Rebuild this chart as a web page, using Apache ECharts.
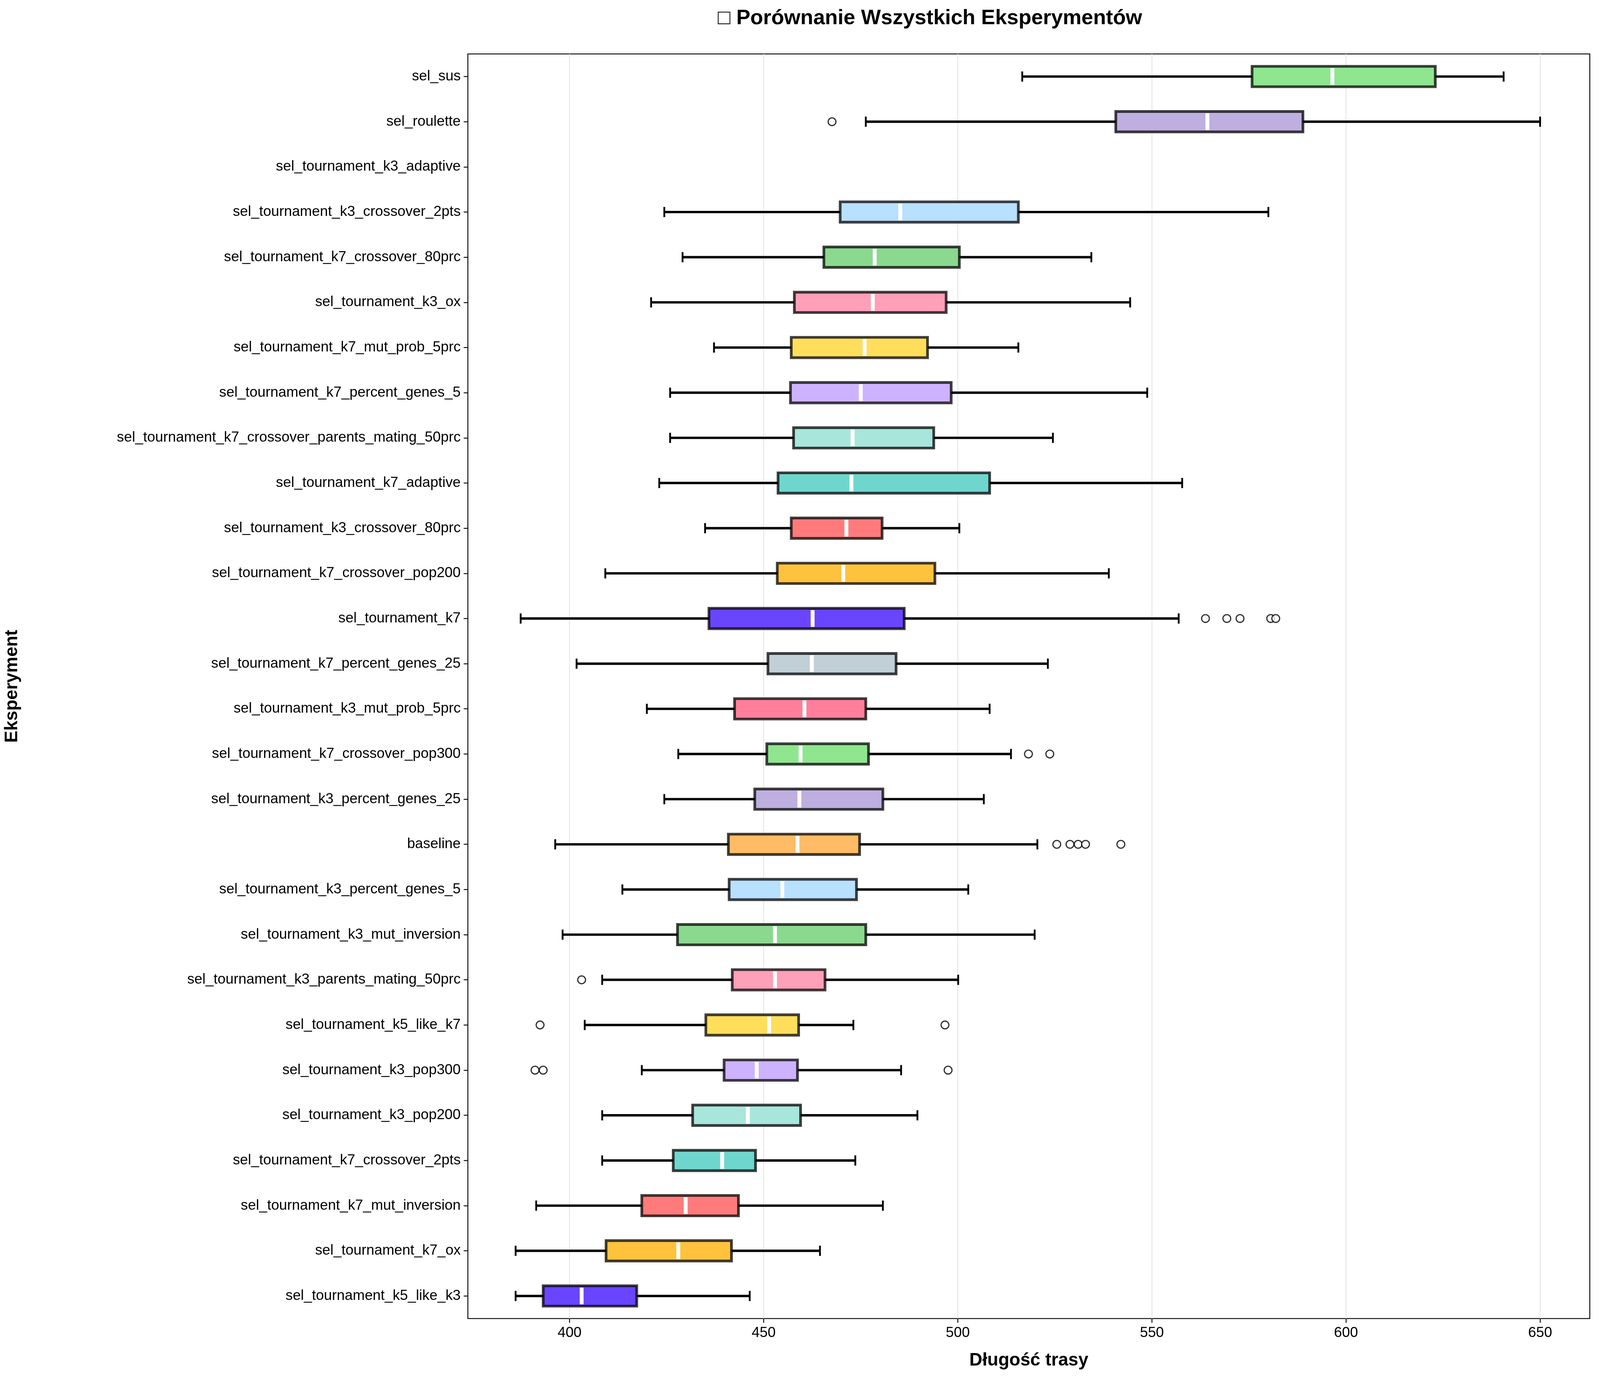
<!DOCTYPE html>
<html>
<head>
<meta charset="utf-8">
<script src="https://cdn.jsdelivr.net/npm/echarts@6/dist/echarts.min.js"></script>
<style>html,body{margin:0;padding:0;background:#fff;overflow:hidden}#chart{width:100vw;height:100vh}</style>
</head>
<body>
<div id="chart"></div>
<script>
// kategorie od dołu do góry
var categories = ['sel_tournament_k5_like_k3','sel_tournament_k7_ox','sel_tournament_k7_mut_inversion','sel_tournament_k7_crossover_2pts','sel_tournament_k3_pop200','sel_tournament_k3_pop300','sel_tournament_k5_like_k7','sel_tournament_k3_parents_mating_50prc','sel_tournament_k3_mut_inversion','sel_tournament_k3_percent_genes_5','baseline','sel_tournament_k3_percent_genes_25','sel_tournament_k7_crossover_pop300','sel_tournament_k3_mut_prob_5prc','sel_tournament_k7_percent_genes_25','sel_tournament_k7','sel_tournament_k7_crossover_pop200','sel_tournament_k3_crossover_80prc','sel_tournament_k7_adaptive','sel_tournament_k7_crossover_parents_mating_50prc','sel_tournament_k7_percent_genes_5','sel_tournament_k7_mut_prob_5prc','sel_tournament_k3_ox','sel_tournament_k7_crossover_80prc','sel_tournament_k3_crossover_2pts','sel_tournament_k3_adaptive','sel_roulette','sel_sus']
// [min, q1, mediana, q3, max]
var boxes = [
  [386.1,393.2,403.1,417.3,446.4],
  [386.1,409.4,428.0,441.7,464.5],
  [391.4,418.6,429.9,443.5,480.7],
  [408.4,426.7,439.3,447.9,473.6],
  [408.4,431.7,445.9,459.5,489.6],
  [418.6,439.8,448.2,458.7,485.4],
  [403.9,435.1,451.4,459.0,473.1],
  [408.4,441.9,452.9,465.8,500.1],
  [398.2,427.8,452.9,476.3,519.8],
  [413.6,441.1,454.8,473.9,502.7],
  [396.3,440.9,458.7,474.7,520.5],
  [424.4,447.7,459.2,480.7,506.7],
  [428.0,450.8,459.5,477.0,513.7],
  [419.9,442.5,460.5,476.3,508.2],
  [401.8,451.1,462.4,484.1,523.2],
  [387.4,435.9,462.6,486.2,556.9],
  [409.2,453.5,470.5,494.1,538.9],
  [434.9,457.1,471.3,480.5,500.4],
  [423.1,453.7,472.6,508.2,557.8],
  [425.9,457.7,472.9,493.8,524.5],
  [425.9,456.9,475.0,498.3,548.8],
  [437.2,457.1,476.0,492.2,515.6],
  [421.0,457.9,478.1,497.0,544.4],
  [429.1,465.5,478.6,500.4,534.4],
  [424.4,469.7,485.2,515.6,580.0],
  [531.5,531.5,531.5,531.5,531.5],
  [476.3,540.7,564.3,588.9,650.0],
  [516.6,575.8,596.5,623.0,640.6]
]
// [indeks kategorii, wartość]
var outliers = [
  [5,391.1],[5,393.2],[5,497.5],
  [6,392.4],[6,496.7],
  [7,403.1],
  [10,525.5],[10,528.9],[10,531.0],[10,532.9],[10,542.0],
  [12,518.2],[12,523.7],
  [15,563.8],[15,569.3],[15,572.7],[15,580.6],[15,581.9],
  [26,467.6]
]
var colors = ['#6a45ff','#ffc23d','#ff7b7b','#6fd6ce','#a8e6db','#cdb3ff','#ffde5c','#ff9fb8','#8ad98f','#b8e0ff','#ffbb66','#bfaee0','#8fe68f','#ff7f9a','#c0d0d6','#6a45ff','#ffc23d','#ff7b7b','#6fd6ce','#a8e6db','#cdb3ff','#ffde5c','#ff9fb8','#8ad98f','#b8e0ff','#ffffff','#bfaee0','#8fe68f']
var xTicks = [400,450,500,550,600,650]

var el = document.getElementById('chart')
var chart = echarts.init(el)
var s = el.clientWidth / 5336

chart.setOption({
  animation: false,
  title: {
    text: '\u25A1 Porównanie Wszystkich Eksperymentów',
    left: '58%', top: 20 * s, textAlign: 'center',
    textStyle: { fontFamily: 'Liberation Sans', fontWeight: 'bold', fontSize: 70 * s, color: '#000' }
  },
  grid: { left: 1548 * s, right: 34 * s, top: 180 * s, bottom: 205 * s, show: true, borderColor: '#000', borderWidth: 3 * s, containLabel: false },
  xAxis: {
    type: 'value', min: 373.8, max: 662.8,
    name: 'Długość trasy', nameLocation: 'middle', nameGap: 110 * s,
    nameTextStyle: { fontFamily: 'Liberation Sans', fontWeight: 'bold', fontSize: 60 * s, color: '#000' },
    axisLine: { show: false },
    axisTick: { show: true, customValues: xTicks, length: 14 * s, lineStyle: { color: '#000', width: 3 * s } },
    axisLabel: { customValues: xTicks, fontFamily: 'Liberation Sans', fontSize: 48 * s, color: '#000', margin: 24 * s },
    splitLine: { show: true, lineStyle: { color: '#e6e6e6', width: 3 * s } }
  },
  yAxis: {
    type: 'category', data: categories,
    name: 'Eksperyment', nameLocation: 'middle', nameGap: 1490 * s, nameRotate: 90,
    nameTextStyle: { fontFamily: 'Liberation Sans', fontWeight: 'bold', fontSize: 60 * s, color: '#000' },
    axisLine: { show: false },
    axisTick: { show: true, alignWithLabel: true, length: 14 * s, lineStyle: { color: '#000', width: 3 * s } },
    axisLabel: { fontFamily: 'Liberation Sans', fontSize: 48 * s, color: '#000', margin: 24 * s },
    splitLine: { show: false }
  },
  series: [{
    type: 'custom',
    data: boxes.map(function (b, i) { return [i].concat(b) }),
    encode: { x: [1, 2, 3, 4, 5], y: 0 },
    renderItem: function (params, api) {
      var i = api.value(0)
      if (api.value(1) === api.value(5)) return { type: 'group', children: [] }
      var pMin = api.coord([api.value(1), i])
      var pQ1 = api.coord([api.value(2), i])
      var pMed = api.coord([api.value(3), i])
      var pQ3 = api.coord([api.value(4), i])
      var pMax = api.coord([api.value(5), i])
      var y = pMin[1]
      var h = 68 * s, cap = 17 * s
      var dark = '#000'
      return {
        type: 'group',
        children: [
          { type: 'line', shape: { x1: pMin[0], y1: y, x2: pQ1[0], y2: y }, style: { stroke: dark, lineWidth: 8 * s } },
          { type: 'line', shape: { x1: pQ3[0], y1: y, x2: pMax[0], y2: y }, style: { stroke: dark, lineWidth: 8 * s } },
          { type: 'line', shape: { x1: pMin[0], y1: y - cap, x2: pMin[0], y2: y + cap }, style: { stroke: dark, lineWidth: 6 * s } },
          { type: 'line', shape: { x1: pMax[0], y1: y - cap, x2: pMax[0], y2: y + cap }, style: { stroke: dark, lineWidth: 6 * s } },
          { type: 'rect', shape: { x: pQ1[0], y: y - h / 2, width: pQ3[0] - pQ1[0], height: h },
            style: { fill: colors[i], stroke: 'rgba(0,0,0,0.75)', lineWidth: 9 * s } },
          { type: 'line', shape: { x1: pMed[0], y1: y - h / 2 + 6 * s, x2: pMed[0], y2: y + h / 2 - 6 * s }, style: { stroke: '#fff', lineWidth: 13 * s } }
        ]
      }
    }
  }, {
    type: 'scatter',
    data: outliers.map(function (o) { return [o[1], o[0]] }),
    symbol: 'circle', symbolSize: 26 * s,
    itemStyle: { color: '#fff', borderColor: '#000', borderWidth: 4 * s }
  }]
})
</script>
</body>
</html>
